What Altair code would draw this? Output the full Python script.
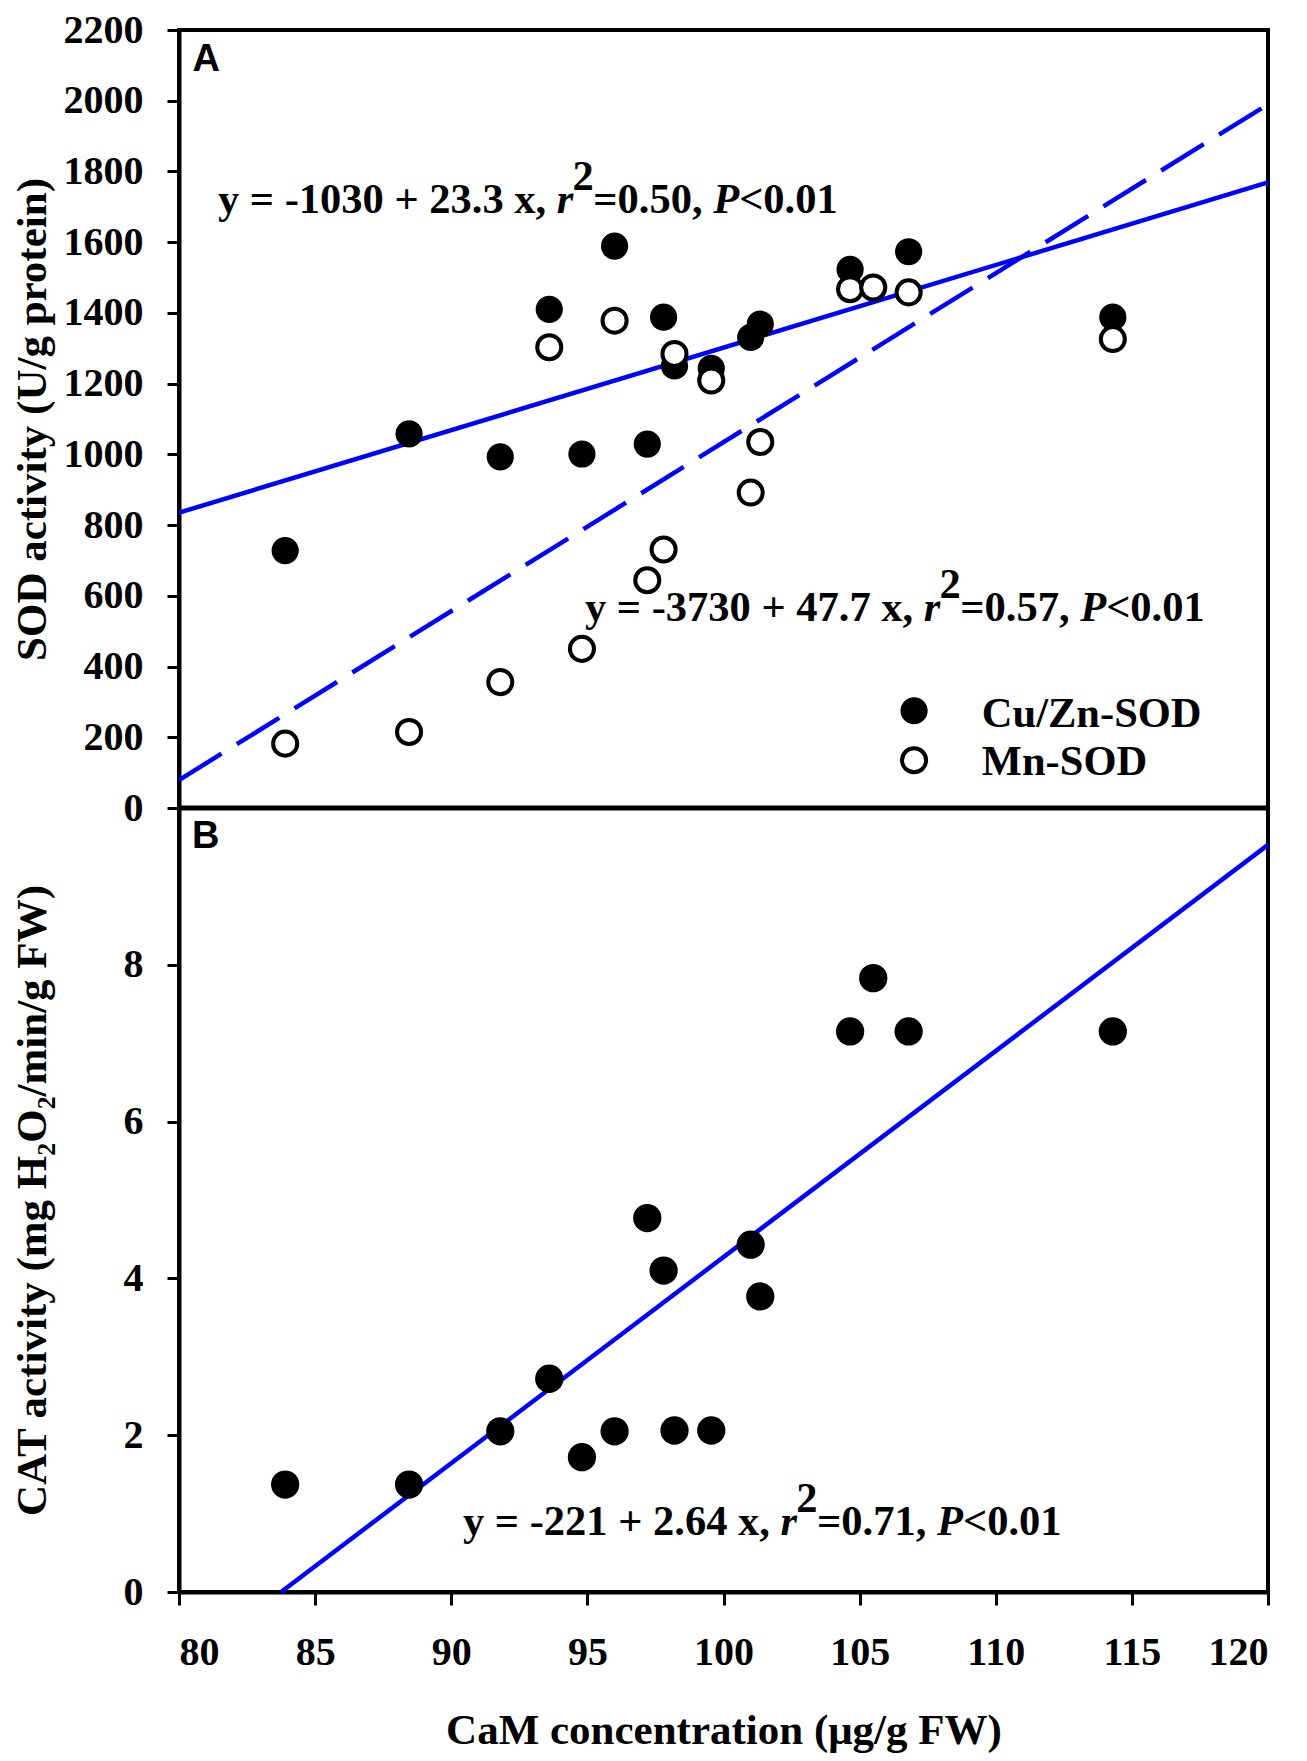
import altair as alt
import pandas as pd

# ---------------- data ----------------
cam_x = [83.9, 88.45, 91.8, 93.6, 94.8, 96.0, 97.2, 97.8, 98.2, 99.55,
         101.0, 101.35, 104.65, 105.5, 106.8, 114.3]
cuzn_x = [83.9, 88.45, 91.8, 93.6, 94.8, 96.0, 97.2, 97.8, 98.2, 99.55,
          101.0, 101.35, 104.65, 106.8, 114.3]
cuzn_sod = [728, 1058, 993, 1410, 1001, 1589, 1029, 1388, 1250, 1243,
            1331, 1368, 1523, 1573, 1388]
mn_sod = [182, 215, 356, 1303, 450, 1378, 644, 731, 1284, 1209,
          892, 1035, 1467, 1472, 1458, 1326]
cat = [1.37, 1.37, 2.05, 2.72, 1.72, 2.05, 4.77, 4.10, 2.06, 2.06,
       4.43, 3.77, 7.15, 7.83, 7.15, 7.15]

# regression lines (end points)
fitA_x = [80, 120]
fitA_cuzn = [835, 1769]
fitA_mn = [79, 1990]
fitB_x = [83.75, 120]
fitB_cat = [0, 9.53]

x_ticks = [80, 85, 90, 95, 100, 105, 110, 115, 120]
yA_ticks = [0, 200, 400, 600, 800, 1000, 1200, 1400, 1600, 1800, 2000, 2200]
yB_ticks = [0, 2, 4, 6, 8]

eq_prefix = ["y = -1030 + 23.3 x,", "y = -3730 + 47.7 x,", "y = -221 + 2.64 x,"]
eq_prefix_em = [7.973, 7.973, 7.473]
eq_r2 = ["=0.50,", "=0.57,", "=0.71,"]
eq_anchor_x = [81.43, 94.91, 90.43]
eq_anchor_y = [1683, 529, 0.725]
eq_panel = ["A", "A", "B"]

legend_labels = ["Cu/Zn-SOD", "Mn-SOD"]
legend_marker_x = 107.0
legend_marker_y = [275, 135]
legend_text_x = 109.49
legend_text_y = [230, 93]

# ---------------- styling ----------------
SERIF = "Liberation Serif"
SANS = "Liberation Sans"
BLUE = "#0000ff"
W = 1089
HA = 778
HB = 784
FS = 42.5
PXU = W / 40.0

XS = alt.Scale(domain=[80, 120], nice=False, zero=False)
YSA = alt.Scale(domain=[0, 2200], nice=False, zero=False)
YSB = alt.Scale(domain=[0, 10], nice=False, zero=False)

X_A = alt.X("x:Q", scale=XS, axis=None)
Y_A = alt.Y("y:Q", scale=YSA, axis=alt.Axis(
    values=yA_ticks, format="d", title="SOD activity (U/g protein)", labelPadding=24,
    titleX=-147, titleY=HA / 2, titleAngle=-90, titleAlign="center",
    titleBaseline="middle"))
X_B = alt.X("x:Q", scale=XS, axis=alt.Axis(
    values=x_ticks, format="d", title="CaM concentration (\u03bcg/g FW)", tickSize=13,
    labelPadding=27, titleY=151, titleBaseline="alphabetic"))
Y_B = alt.Y("y:Q", scale=YSB, axis=alt.Axis(
    values=yB_ticks, format="d", title="CAT activity (mg H\u2082O\u2082/min/g FW)",
    labelPadding=24, titleX=-147, titleY=HB / 2, titleAngle=-90,
    titleAlign="center", titleBaseline="middle"))


def seg_frames(panel):
    normal, italic, sup = [], [], []
    for i in range(3):
        if eq_panel[i] != panel:
            continue
        x0, y0, pe = eq_anchor_x[i], eq_anchor_y[i], eq_prefix_em[i]
        off = lambda em: x0 + em * FS / PXU
        normal.append({"x": off(0), "y": y0, "t": eq_prefix[i]})
        italic.append({"x": off(pe), "y": y0, "t": "r"})
        sup.append({"x": off(pe + 0.37), "y": y0, "t": "2"})
        normal.append({"x": off(pe + 0.86), "y": y0, "t": eq_r2[i]})
        italic.append({"x": off(pe + 0.86 + 2.82), "y": y0, "t": "P"})
        normal.append({"x": off(pe + 0.86 + 2.82 + 0.611), "y": y0, "t": "<0.01"})
    return pd.DataFrame(normal), pd.DataFrame(italic), pd.DataFrame(sup)


def text_layers(panel, X, Y):
    n, it, s = seg_frames(panel)
    base = dict(font=SERIF, fontSize=FS, fontWeight="bold", color="black",
                align="left", baseline="alphabetic")
    return [
        alt.Chart(n).mark_text(**base).encode(x=X, y=Y, text="t:N"),
        alt.Chart(it).mark_text(fontStyle="italic", **base).encode(x=X, y=Y, text="t:N"),
        alt.Chart(s).mark_text(dy=-23, **base).encode(x=X, y=Y, text="t:N"),
    ]


filled = dict(shape="circle", filled=True, color="black", opacity=1, strokeWidth=0)
hollow = dict(shape="circle", filled=True, fill="white", stroke="black",
              strokeWidth=4, opacity=1)

# ---------------- panel A ----------------
a_lines = [
    alt.Chart(pd.DataFrame({"x": fitA_x, "y": fitA_cuzn})).mark_line(
        color=BLUE, strokeWidth=4.5).encode(x=X_A, y=Y_A),
    alt.Chart(pd.DataFrame({"x": fitA_x, "y": fitA_mn})).mark_line(
        color=BLUE, strokeWidth=4.5, strokeDash=[50, 18]).encode(x=X_A, y=Y_A),
]
a_pts = [
    alt.Chart(pd.DataFrame({"x": cuzn_x, "y": cuzn_sod})).mark_point(
        size=740, **filled).encode(x=X_A, y=Y_A),
    alt.Chart(pd.DataFrame({"x": cam_x, "y": mn_sod})).mark_point(
        size=580, **hollow).encode(x=X_A, y=Y_A),
]
a_legend = [
    alt.Chart(pd.DataFrame({"x": [legend_marker_x], "y": [legend_marker_y[0]]})).mark_point(
        size=740, **filled).encode(x=X_A, y=Y_A),
    alt.Chart(pd.DataFrame({"x": [legend_marker_x], "y": [legend_marker_y[1]]})).mark_point(
        size=580, **hollow).encode(x=X_A, y=Y_A),
    alt.Chart(pd.DataFrame({"x": [legend_text_x] * 2, "y": legend_text_y, "t": legend_labels})).mark_text(
        font=SERIF, fontSize=FS, fontWeight="bold", color="black", align="left",
        baseline="alphabetic").encode(x=X_A, y=Y_A, text="t:N"),
]
a_label = alt.Chart(pd.DataFrame({"x": [80.5], "y": [2083], "t": ["A"]})).mark_text(
    font=SANS, fontSize=38, fontWeight="bold", color="black", align="left",
    baseline="alphabetic").encode(x=X_A, y=Y_A, text="t:N")
a_zero = alt.Chart(pd.DataFrame({"y": [0]})).mark_rule(
    color="black", strokeWidth=5).encode(y=Y_A)

panelA = alt.layer(*a_lines, *a_pts, *a_legend, a_label, *text_layers("A", X_A, Y_A),
                   a_zero).properties(width=W, height=HA)

# ---------------- panel B ----------------
b_line = alt.Chart(pd.DataFrame({"x": fitB_x, "y": fitB_cat})).mark_line(
    color=BLUE, strokeWidth=4.5).encode(x=X_B, y=Y_B)
b_pts = alt.Chart(pd.DataFrame({"x": cam_x, "y": cat})).mark_point(
    size=800, **filled).encode(x=X_B, y=Y_B)
b_label = alt.Chart(pd.DataFrame({"x": [80.48], "y": [9.49], "t": ["B"]})).mark_text(
    font=SANS, fontSize=38, fontWeight="bold", color="black", align="left",
    baseline="alphabetic").encode(x=X_B, y=Y_B, text="t:N")

panelB = alt.layer(b_line, b_pts, b_label, *text_layers("B", X_B, Y_B)).properties(
    width=W, height=HB)

chart = alt.vconcat(panelA, panelB, spacing=0, bounds="flush").properties(
    padding={"left": 1, "top": 0, "right": 20, "bottom": 5},
    background="white",
).configure_view(
    stroke="black", strokeWidth=4
).configure_axis(
    domainColor="black", domainWidth=4, tickColor="black", tickWidth=3,
    tickSize=12, labelFont=SERIF, labelFontWeight="bold", labelFontSize=40,
    labelColor="black", titleFont=SERIF, titleFontWeight="bold",
    titleFontSize=43, titleColor="black", grid=False,
)

chart.save("out.html", embed_options={"renderer": "svg", "actions": False})
